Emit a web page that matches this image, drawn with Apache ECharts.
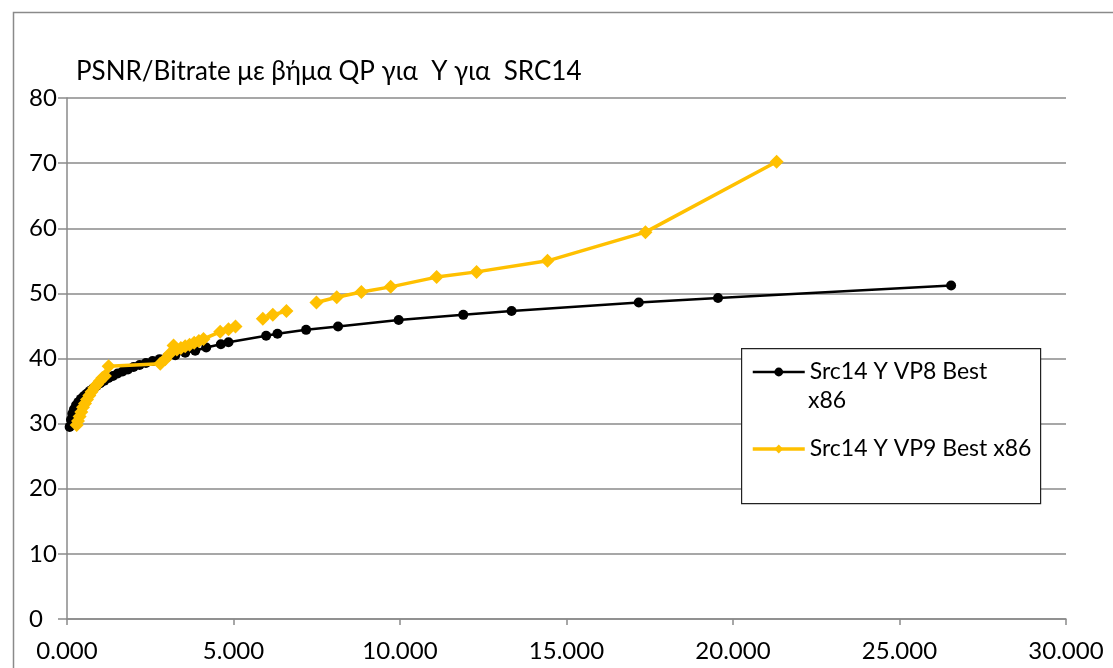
<!DOCTYPE html>
<html>
<head>
<meta charset="utf-8">
<script src="https://cdn.jsdelivr.net/npm/echarts@6/dist/echarts.min.js"></script>
<style>
html,body{margin:0;padding:0;background:#fff;}
#chart{width:1113px;height:668px;}
</style>
</head>
<body>
<div id="chart"></div>
<script>
var titleText = 'PSNR/Bitrate με βήμα QP για  Y για  SRC14';
var seriesNames = ['Src14 Y VP8 Best x86', 'Src14 Y VP9 Best x86'];
var xTicks = [0, 5, 10, 15, 20, 25, 30];
var yTicks = [0, 10, 20, 30, 40, 50, 60, 70, 80];

// VP8 (black) bitrate / PSNR
var vp8Bitrate = [0.08, 0.12, 0.16, 0.21, 0.27, 0.34, 0.42, 0.50, 0.59, 0.68, 0.78, 0.89, 1.00, 1.12, 1.25, 1.38, 1.52, 1.67, 1.83, 2.00, 2.18, 2.37, 2.57, 2.78, 3.00, 3.25, 3.55, 3.85, 4.18, 4.62, 4.85, 5.98, 6.32, 7.18, 8.14, 9.96, 11.90, 13.35, 17.17, 19.55, 26.55];
var vp8Psnr    = [29.5, 30.6, 31.5, 32.2, 32.8, 33.3, 33.8, 34.2, 34.6, 35.0, 35.4, 35.8, 36.2, 36.6, 37.0, 37.3, 37.7, 38.0, 38.3, 38.7, 39.0, 39.3, 39.6, 39.9, 40.2, 40.5, 40.9, 41.2, 41.7, 42.2, 42.5, 43.5, 43.8, 44.4, 44.9, 45.9, 46.7, 47.3, 48.6, 49.3, 51.2];

// VP9 (yellow) bitrate / PSNR ; null marks a break in the line
var vp9Bitrate = [0.29, 0.33, 0.38, 0.43, 0.48, 0.54, 0.60, 0.67, 0.74, 0.82, 0.90, 0.98, 1.06, 1.14, 1.25, 2.80, 2.95, 3.08, 3.20, 3.30, 3.42, 3.55, 3.68, 3.82, 3.96, 4.10, 4.60, 4.85, 5.06, null, 5.88, 6.18, 6.59, null, 7.49, 8.10, 8.84, 9.72, 11.10, 12.30, 14.43, 17.37, 21.31];
var vp9Psnr    = [29.8, 30.4, 31.1, 31.8, 32.5, 33.1, 33.7, 34.3, 34.9, 35.5, 36.0, 36.5, 37.0, 37.3, 38.8, 39.2, 39.9, 40.7, 42.0, 41.4, 41.6, 41.9, 42.1, 42.4, 42.7, 43.0, 44.1, 44.5, 44.9, null, 46.1, 46.7, 47.3, null, 48.6, 49.4, 50.2, 51.0, 52.5, 53.3, 55.0, 59.4, 70.2];

function pairs(xs, ys) {
  return xs.map(function (x, i) {
    return (x === null || ys[i] === null) ? ['-', '-'] : [x, ys[i]];
  });
}

var FONT = 'Lato';
var chart = echarts.init(document.getElementById('chart'), null, {renderer: 'canvas'});
var option = {
  backgroundColor: '#ffffff',
  animation: false,
  title: {
    text: titleText,
    left: 71,
    top: 54,
    textStyle: {fontFamily: FONT, fontSize: 26, fontWeight: 'normal', color: '#000'}
  },
  grid: {left: 67, right: 47, top: 98, bottom: 49, containLabel: false},
  xAxis: {
    type: 'value',
    min: xTicks[0],
    max: xTicks[xTicks.length - 1],
    interval: xTicks[1] - xTicks[0],
    axisLine: {show: true, onZero: false, lineStyle: {color: '#8a8a8a', width: 1.5}},
    axisTick: {show: true, length: 6, lineStyle: {color: '#8a8a8a', width: 1.5}},
    splitLine: {show: false},
    axisLabel: {
      margin: 20,
      fontFamily: FONT, fontSize: 24, color: '#000',
      formatter: function (v) { return v.toFixed(3); }
    }
  },
  yAxis: {
    type: 'value',
    min: yTicks[0],
    max: yTicks[yTicks.length - 1],
    interval: yTicks[1] - yTicks[0],
    axisLine: {show: true, lineStyle: {color: '#8a8a8a', width: 1.5}},
    axisTick: {show: true, length: 9, lineStyle: {color: '#8a8a8a', width: 1.5}},
    splitLine: {show: true, lineStyle: {color: '#8a8a8a', width: 1.5}},
    axisLabel: {margin: 38, align: 'left', fontFamily: FONT, fontSize: 24, color: '#000'}
  },
  legend: {
    orient: 'vertical',
    left: 751,
    top: 357,
    padding: 0,
    z: 20,
    itemGap: 47,
    itemWidth: 52,
    itemHeight: 11,
    data: [
      {name: seriesNames[0], lineStyle: {width: 2.5, color: '#000'}},
      {name: seriesNames[1], lineStyle: {width: 3.5, color: '#FFC000'}}
    ],
    formatter: function (name) {
      return name === seriesNames[0] ? 'Src14 Y VP8 Best' : name;
    },
    textStyle: {fontFamily: FONT, fontSize: 23, color: '#000', lineHeight: 30}
  },
  graphic: [
    {type: 'rect', left: 11, top: 10, shape: {width: 1200, height: 700}, style: {fill: 'none', stroke: '#8a8a8a', lineWidth: 1.5}, silent: true, z: -10},
    {type: 'rect', left: 741, top: 348, shape: {width: 299, height: 155}, style: {fill: '#fff', stroke: '#222', lineWidth: 1.2}, silent: true, z: 5},
    {type: 'text', left: 808, top: 389, style: {text: 'x86', fontFamily: FONT, fontSize: 23, fill: '#000'}, z: 6}
  ],
  series: [
    {
      name: seriesNames[0],
      type: 'line',
      data: pairs(vp8Bitrate, vp8Psnr),
      symbol: 'circle',
      symbolSize: 10,
      showAllSymbol: true,
      lineStyle: {color: '#000', width: 2.5},
      itemStyle: {color: '#000'},
      z: 2
    },
    {
      name: seriesNames[1],
      type: 'line',
      data: pairs(vp9Bitrate, vp9Psnr),
      symbol: 'diamond',
      symbolSize: 14,
      showAllSymbol: true,
      connectNulls: false,
      lineStyle: {color: '#FFC000', width: 3.5},
      itemStyle: {color: '#FFC000'},
      z: 3
    }
  ]
};
chart.setOption(option);
</script>
</body>
</html>
